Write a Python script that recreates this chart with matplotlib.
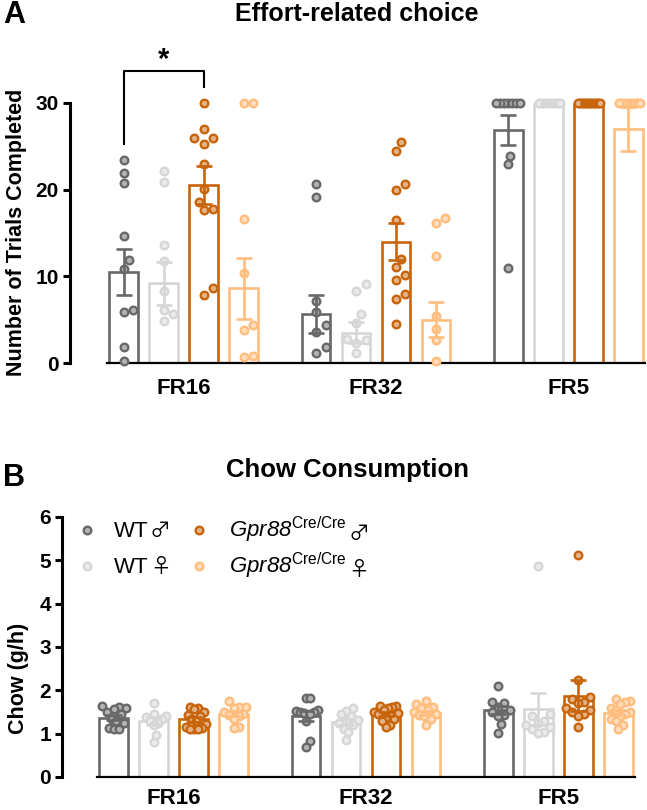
import numpy as np
import matplotlib.pyplot as plt
import matplotlib.colors as mcolors
from matplotlib.lines import Line2D

plt.rcParams['font.family'] = ['Liberation Sans', 'DejaVu Sans']
plt.rcParams['mathtext.fontset'] = 'custom'
# Gpr88 is italic (digits included), the superscript is upright
plt.rcParams['mathtext.rm'] = 'Liberation Sans:italic'
plt.rcParams['mathtext.sf'] = 'Liberation Sans'

groups = ["FR16", "FR32", "FR5"]
genotypes = ["WT", "WT", r"$\mathrm{Gpr88}^{\mathsf{Cre/Cre}}$", r"$\mathrm{Gpr88}^{\mathsf{Cre/Cre}}$"]
sexes = ["♂", "♀", "♂", "♀"]
colors = ["#686868", "#d6d6d6", "#c8650c", "#ffbd7e"]

# panel A: trials completed, one list per schedule
trials_wt_m = [[23.4, 21.9, 20.8, 14.6, 11.9, 10.9, 5.9, 6.1, 1.8, 0.2],
               [20.7, 19.1, 7.2, 5.9, 4.4, 3.6, 1.8, 1.2],
               [30, 30, 30, 30, 30, 30, 30, 23.9, 23.0, 11.0]]
trials_wt_f = [[22.1, 20.9, 13.6, 11.8, 8.3, 6.1, 5.6, 4.8],
               [9.1, 8.3, 5.6, 4.6, 2.8, 2.7, 2.3, 1.2],
               [30, 30, 30, 30, 30, 30, 30, 30]]
trials_ko_m = [[30, 27, 26, 26, 25.3, 23, 20.1, 18.6, 17.8, 17.6, 8.7, 7.9],
               [25.5, 24.5, 20.7, 20.0, 16.5, 12.0, 11.1, 10.1, 9.6, 8.0, 7.4, 4.5],
               [30, 30, 30, 30, 30, 30, 30, 30, 30, 30, 30, 30]]
trials_ko_f = [[30, 30, 16.6, 10.4, 4.4, 3.8, 0.8, 0.65],
               [16.7, 16.2, 12.4, 5.4, 3.9, 2.6, 0.2],
               [30, 30, 30, 30, 30, 30, 30, 30]]
trials_mean = [[10.5, 5.65, 26.9], [9.2, 3.5, 30.0], [20.5, 14.0, 30.0], [8.6, 5.0, 27.0]]
trials_sem = [[2.6, 2.2, 1.7], [2.45, 1.2, 0.0], [2.2, 2.1, 0.0], [3.5, 2.0, 2.5]]

# panel B: chow (g/h)
chow_wt_m = [[1.65, 1.62, 1.6, 1.58, 1.5, 1.45, 1.35, 1.3, 1.25, 1.12, 1.1, 1.1],
             [1.83, 1.83, 1.55, 1.52, 1.5, 1.5, 1.48, 1.45, 1.3, 0.82, 0.7],
             [2.1, 1.72, 1.7, 1.62, 1.55, 1.5, 1.42, 1.4, 1.22, 1.02]]
chow_wt_f = [[1.7, 1.45, 1.4, 1.38, 1.35, 1.3, 1.25, 1.2, 0.98, 0.8],
             [1.6, 1.52, 1.45, 1.4, 1.32, 1.3, 1.25, 1.2, 1.1, 1.05, 0.85],
             [4.87, 1.45, 1.4, 1.3, 1.25, 1.2, 1.15, 1.1, 1.05, 1.02]]
chow_ko_m = [[1.62, 1.6, 1.58, 1.5, 1.42, 1.4, 1.35, 1.3, 1.22, 1.15, 1.12, 1.1, 1.1, 1.1],
             [1.65, 1.65, 1.62, 1.6, 1.55, 1.5, 1.48, 1.45, 1.42, 1.38, 1.35, 1.3, 1.2, 1.15],
             [5.12, 2.25, 1.85, 1.8, 1.72, 1.7, 1.6, 1.55, 1.5, 1.45, 1.4, 1.15]]
chow_ko_f = [[1.75, 1.62, 1.62, 1.6, 1.5, 1.45, 1.42, 1.4, 1.35, 1.15, 1.12],
             [1.75, 1.68, 1.62, 1.6, 1.55, 1.5, 1.45, 1.42, 1.4, 1.35, 1.2],
             [1.8, 1.75, 1.72, 1.68, 1.6, 1.55, 1.5, 1.45, 1.4, 1.35, 1.3, 1.2, 1.1]]
chow_mean = [[1.37, 1.41, 1.55], [1.30, 1.28, 1.57], [1.33, 1.45, 1.88], [1.46, 1.48, 1.48]]
chow_sem = [[0.06, 0.11, 0.10], [0.09, 0.07, 0.37], [0.05, 0.04, 0.36], [0.06, 0.05, 0.06]]

BAR_STEP = 0.208
BAR_W = 0.15
SEX_FONT = ['Noto Sans CJK JP', 'DejaVu Sans']


def tint(c, f=0.5):
    r, g, b = mcolors.to_rgb(c)
    return (1 - f + f * r, 1 - f + f * g, 1 - f + f * b)


def swarm(ax, xc, ys, diam=9.5, max_half=12.0):
    """spread overlapping points sideways (in pixels), GraphPad style"""
    ys = np.asarray(ys, float)
    ypx = ax.transData.transform(np.column_stack([np.full(len(ys), xc), ys]))[:, 1]
    offs = np.zeros(len(ys))
    placed = []
    step = diam / 2
    for i in np.argsort(ypx, kind="stable"):
        k = 0
        while True:
            cand = ((k + 1) // 2) * step * (1 if k % 2 else -1)
            if all((cand - ox) ** 2 + (ypx[i] - oy) ** 2 >= (0.92 * diam) ** 2
                   for ox, oy in placed):
                break
            k += 1
        offs[i] = cand
        placed.append((cand, ypx[i]))
    m = np.abs(offs).max()
    if m > max_half:
        offs *= max_half / m
    px_per_unit = ax.transData.transform((1, 0))[0] - ax.transData.transform((0, 0))[0]
    return xc + offs / px_per_unit


def draw_panel(ax, series, means, sems, ymax, yticks, spine_off, xpad):
    ax.set_xlim(-0.40, 2.40)
    ax.set_ylim(0, ymax)
    x = np.arange(len(groups))
    for j, (data, c) in enumerate(zip(series, colors)):
        xs = x + (j - 1.5) * BAR_STEP
        ax.bar(xs, means[j], BAR_W, facecolor="white", edgecolor=c, linewidth=1.9, zorder=2)
        ax.errorbar(xs, means[j], yerr=sems[j], fmt="none", ecolor=c, elinewidth=1.9,
                    capsize=5.5, capthick=1.9, zorder=4)
        for g in range(len(groups)):
            px = swarm(ax, xs[g], data[g])
            ax.scatter(px, data[g], s=30, facecolors=[tint(c)], edgecolors=c,
                       linewidths=1.7, zorder=3, clip_on=False)
    for s in ["top", "right"]:
        ax.spines[s].set_visible(False)
    ax.spines["left"].set_position(("outward", spine_off))
    ax.spines["left"].set_linewidth(2.2)
    ax.spines["bottom"].set_linewidth(1.6)
    ax.set_yticks(yticks)
    ax.set_yticklabels([str(t) for t in yticks], fontweight="bold", fontsize=15)
    ax.tick_params(axis="y", width=2.2, length=5, pad=3)
    ax.set_xticks(x)
    ax.set_xticklabels(groups, fontweight="bold", fontsize=16)
    ax.tick_params(axis="x", length=0, pad=xpad)


fig = plt.figure(figsize=(6.47, 8.10), dpi=100)
ax_a = fig.add_axes([107 / 647, 1 - 363 / 810, 538 / 647, 260 / 810])
ax_b = fig.add_axes([97 / 647, 1 - 777 / 810, 538 / 647, 260 / 810])

draw_panel(ax_a, [trials_wt_m, trials_wt_f, trials_ko_m, trials_ko_f],
           trials_mean, trials_sem, 30, [0, 10, 20, 30], 26.6, 11)
draw_panel(ax_b, [chow_wt_m, chow_wt_f, chow_ko_m, chow_ko_f],
           chow_mean, chow_sem, 6, [0, 1, 2, 3, 4, 5, 6], 25.2, 8)

# significance bracket WT male vs KO male at FR16
x0, x2 = -1.5 * BAR_STEP, 0.5 * BAR_STEP
ax_a.plot([x0, x0, x2, x2], [25.3, 33.7, 33.7, 31.9], color="black", lw=1.5, clip_on=False)
ax_a.text((x0 + x2) / 2, 33.4, "*", ha="center", va="bottom", fontsize=21,
          fontweight="bold")

fig.text(357 / 647, 1 - 14 / 810, "Effort-related choice", ha="center", va="center",
         fontsize=18, fontweight="bold")
fig.text(348 / 647, 1 - 470 / 810, "Chow Consumption", ha="center", va="center",
         fontsize=18.5, fontweight="bold")
fig.text(14 / 647, 1 - 15 / 810, "A", ha="center", va="center", fontsize=22, fontweight="bold")
fig.text(14 / 647, 1 - 478 / 810, "B", ha="center", va="center", fontsize=22, fontweight="bold")
fig.text(17 / 647, 1 - 232 / 810, "Number of Trials Completed", rotation=90,
         ha="center", va="center", fontsize=15.5, fontweight="bold")
fig.text(19 / 647, 1 - 678 / 810, "Chow (g/h)", rotation=90,
         ha="center", va="center", fontsize=15.5, fontweight="bold")

# legend, laid out by hand in two columns
leg_marker_x = [87, 87, 199, 199]
leg_text_x = [114, 114, 229, 229]
leg_row_y = [530, 566, 530, 566]
for c, name, sex, mx, tx, ry in zip(colors, genotypes, sexes, leg_marker_x, leg_text_x, leg_row_y):
    fig.add_artist(Line2D([mx / 647], [1 - ry / 810], transform=fig.transFigure,
                          marker="o", ls="none", ms=5.5, mew=1.7, mec=c, mfc=tint(c)))
    t = fig.text(tx / 647, 1 - (ry + 7) / 810, name, ha="left", va="baseline", fontsize=16)
    # sex symbol follows the label text
    ax_b.annotate(sex, xy=(1, 0), xycoords=t, xytext=(1, 0), textcoords="offset points",
                  ha="left", va="bottom", fontsize=15, family=SEX_FONT,
                  annotation_clip=False)

fig.savefig("out.png", dpi=100)
